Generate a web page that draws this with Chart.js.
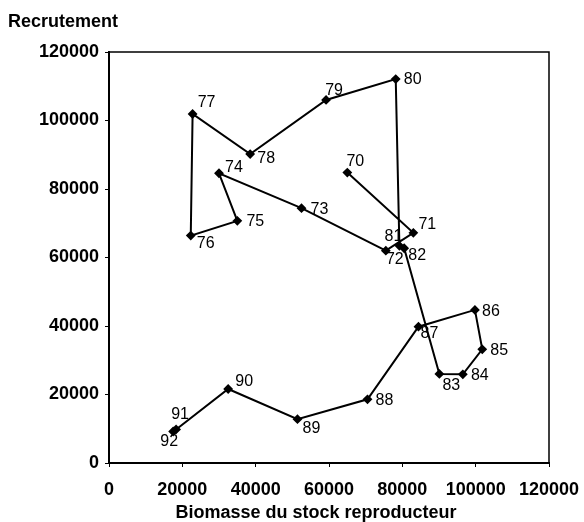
<!DOCTYPE html>
<html>
<head>
<meta charset="utf-8">
<script src="https://cdn.jsdelivr.net/npm/chart.js@4.4.1/dist/chart.umd.min.js"></script>
<style>
  html, body { margin: 0; padding: 0; background: #fff; }
  #wrap { width: 584px; height: 522px; position: relative; }
</style>
</head>
<body>
<div id="wrap"><canvas id="srChart"></canvas></div>
<script>
// year labels (19xx), biomass of spawning stock (x), recruitment (y)
const years = ["70", "71", "72", "73", "74", "75", "76", "77", "78", "79", "80",
  "81", "82", "83", "84", "85", "86", "87", "88", "89", "90", "91", "92"];
const biomass = [65000, 83000, 75500, 52500, 30000, 35000, 22300, 22800, 38500, 59200, 78200,
  79200, 80500, 90100, 96500, 101800, 99800, 84400, 70500, 51400, 32500, 18300, 17500];
const recruitment = [84800, 67200, 62000, 74400, 84600, 70700, 66400, 101900, 90200, 106000, 112100,
  63400, 62700, 26000, 25900, 33200, 44700, 39800, 18600, 12800, 21600, 9800, 9200];
const xTicks = [0, 20000, 40000, 60000, 80000, 100000, 120000];
const yTicks = [0, 20000, 40000, 60000, 80000, 100000, 120000];

// where each year label sits relative to its point (px)
const labelOffsets = [[8, -11], [14, -8], [9, 9], [18, 1], [15, -6], [18, 1], [15, 8], [14, -11],
  [16, 5], [8, -9], [17, 1], [-6, -9], [13, 7], [12, 12], [17, 1], [17, 1], [16, 2], [11, 7],
  [17, 1], [14, 9], [16, -7], [4, -15], [-4, 10]];

const tickFont = { family: "'Liberation Sans', Arial, sans-serif", size: 18, weight: "bold" };

const points = biomass.map((b, i) => ({ x: b, y: recruitment[i] }));

const yearLabels = {
  id: "yearLabels",
  afterDatasetsDraw(chart) {
    const ctx = chart.ctx;
    const meta = chart.getDatasetMeta(0);
    ctx.save();
    ctx.fillStyle = "#000";
    ctx.font = "16px 'Liberation Sans', Arial, sans-serif";
    ctx.textAlign = "center";
    ctx.textBaseline = "middle";
    meta.data.forEach((el, i) => {
      const off = labelOffsets[i];
      ctx.fillText(years[i], el.x + off[0], el.y + off[1]);
    });
    ctx.restore();
  },
};

const frameAndTitles = {
  id: "frameAndTitles",
  afterDraw(chart) {
    const ctx = chart.ctx;
    const a = chart.chartArea;
    ctx.save();
    ctx.strokeStyle = "#000";
    ctx.lineWidth = 1.5;
    ctx.beginPath();
    ctx.moveTo(a.left, a.top);
    ctx.lineTo(a.right, a.top);
    ctx.lineTo(a.right, a.bottom);
    ctx.stroke();
    ctx.fillStyle = "#000";
    ctx.font = "bold 18px 'Liberation Sans', Arial, sans-serif";
    ctx.textBaseline = "middle";
    ctx.textAlign = "left";
    ctx.fillText("Recrutement", 8, 22);
    ctx.textAlign = "center";
    ctx.fillText("Biomasse du stock reproducteur", 316, 513);
    ctx.restore();
  },
};

new Chart(document.getElementById("srChart"), {
  type: "scatter",
  data: {
    datasets: [
      {
        data: points,
        showLine: true,
        borderColor: "#000",
        backgroundColor: "#000",
        borderWidth: 2,
        pointStyle: "rectRot",
        pointRadius: 3.5,
        pointHoverRadius: 3.5,
        tension: 0,
      },
    ],
  },
  options: {
    responsive: true,
    maintainAspectRatio: false,
    animation: false,
    layout: { padding: { top: 52, right: 35, left: 0, bottom: 0 } },
    plugins: { legend: { display: false }, tooltip: { enabled: false } },
    scales: {
      x: {
        type: "linear",
        min: 0,
        max: 120000,
        afterBuildTicks: (s) => { s.ticks = xTicks.map((v) => ({ value: v })); },
        afterFit: (s) => { s.height = 59; s.paddingLeft = 0; s.paddingRight = 0; },
        grid: { drawOnChartArea: false, drawTicks: true, tickLength: 4, color: "#000" },
        border: { color: "#000", width: 2 },
        ticks: { color: "#000", font: tickFont, padding: 12, maxRotation: 0, callback: (v) => String(v) },
      },
      y: {
        type: "linear",
        min: 0,
        max: 120000,
        afterBuildTicks: (s) => { s.ticks = yTicks.map((v) => ({ value: v })); },
        afterFit: (s) => { s.width = 109; s.paddingTop = 0; s.paddingBottom = 0; },
        grid: { drawOnChartArea: false, drawTicks: true, tickLength: 4, color: "#000" },
        border: { color: "#000", width: 2 },
        ticks: { color: "#000", font: tickFont, padding: 6, callback: (v) => String(v) },
      },
    },
  },
  plugins: [yearLabels, frameAndTitles],
});
</script>
</body>
</html>
